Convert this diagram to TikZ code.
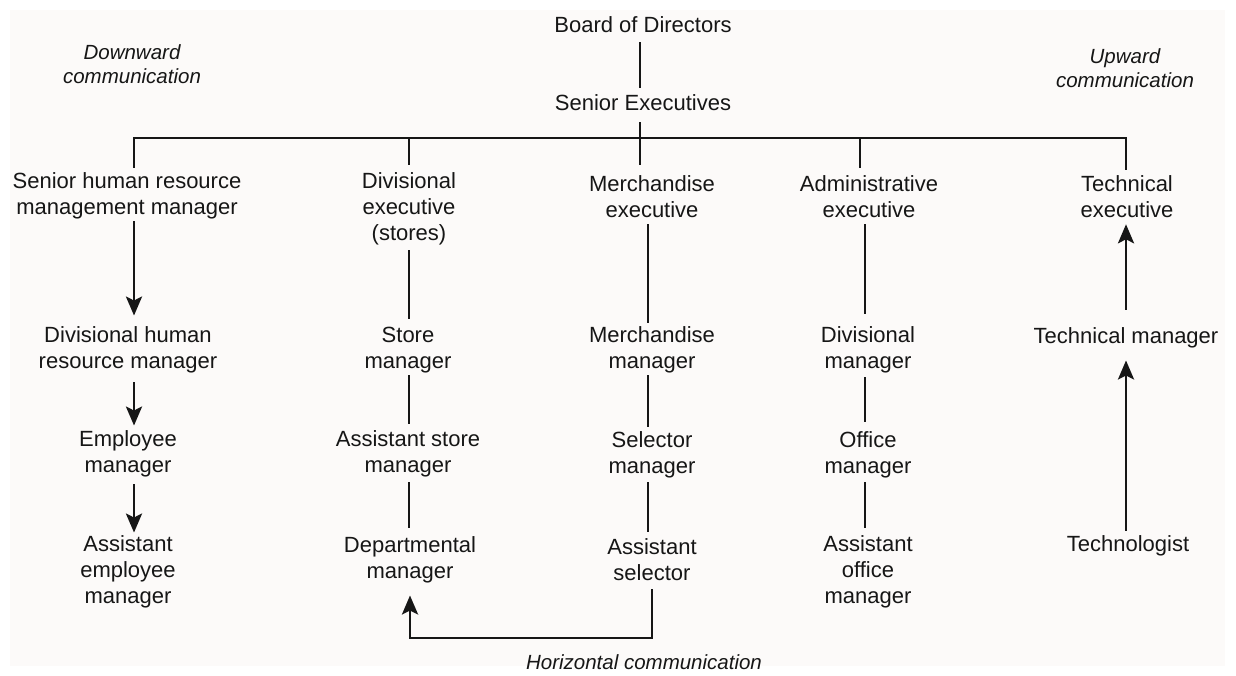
\documentclass[tikz,border=0pt]{standalone}
\usepackage{fontspec}
\setmainfont{Liberation Sans}
\usetikzlibrary{arrows.meta}
\definecolor{ink}{HTML}{161616}
\definecolor{paper}{HTML}{FCFAF9}

\begin{document}
\begin{tikzpicture}[x=1pt,y=-1pt,
  lbl/.style={align=center, inner sep=2pt, font=\fontsize{22}{26}\selectfont, text=ink},
  note/.style={align=center, inner sep=2pt, font=\fontsize{20.5}{24}\selectfont\itshape, text=ink},
  link/.style={draw=ink, line width=2.9pt},
  arr/.style={link, -{Stealth[length=19pt,width=16pt,inset=4pt]}}]
\useasboundingbox (0,0) rectangle (1236,675);
\fill[paper] (10,10) rectangle (1225,666);

% column axes for the connectors
\coordinate (c1) at (134,0);
\coordinate (c2) at (409,0);
\coordinate (c3) at (648,0);
\coordinate (c4top) at (860,0);
\coordinate (c4) at (865,0);
\coordinate (c5) at (1126,0);
\coordinate (trunk) at (640,138);
\coordinate (hr) at (652,638);
\coordinate (hl) at (410,638);

% top of the hierarchy
\node[lbl] (board) at (643,25) {Board of Directors};
\node[lbl] (senior) at (643,103) {Senior Executives};

% executives
\node[lbl] (shrm) at (127,196) {Senior human resource\\management manager};
\node[lbl] (divex) at (409,209) {Divisional\\executive\\(stores)};
\node[lbl] (merex) at (652,197) {Merchandise\\executive};
\node[lbl] (admex) at (869,197) {Administrative\\executive};
\node[lbl] (tecex) at (1127,197) {Technical\\executive};

% managers
\node[lbl] (dhrm) at (128,350) {Divisional human\\resource manager};
\node[lbl] (store) at (408,350) {Store\\manager};
\node[lbl] (merm) at (652,350) {Merchandise\\manager};
\node[lbl] (divm) at (868,350) {Divisional\\manager};
\node[lbl] (tecm) at (1126,338) {Technical manager};

\node[lbl] (empm) at (128,454) {Employee\\manager};
\node[lbl] (asm) at (408,454) {Assistant store\\manager};
\node[lbl] (selm) at (652,455) {Selector\\manager};
\node[lbl] (offm) at (868,455) {Office\\manager};

\node[lbl] (aem) at (128,572) {Assistant\\employee\\manager};
\node[lbl] (depm) at (410,560) {Departmental\\manager};
\node[lbl] (asel) at (652,560) {Assistant\\selector};
\node[lbl] (aom) at (868,572) {Assistant\\office\\manager};
\node[lbl] (techn) at (1128,546) {Technologist};

% communication labels
\node[note] (down) at (132,64) {Downward\\communication};
\node[note] (up) at (1125,68) {Upward\\communication};
\node[note] (horiz) at (644,662) {Horizontal communication};

% trunk and branch bar
\draw[link, shorten <=7pt, shorten >=5pt] (board.south -| trunk) -- (senior.north -| trunk);
\draw[link, shorten <=9pt, shorten >=9pt] (senior.south -| trunk) -- (merex.north -| trunk);
\draw[link, shorten <=3pt, shorten >=4pt] (c1 |- shrm.north) -- (c1 |- trunk) -- (c5 |- trunk) -- (c5 |- tecex.north);
\draw[link, shorten >=6pt] (c2 |- trunk) -- (c2 |- divex.north);
\draw[link, shorten >=6pt] (c4top |- trunk) -- (c4top |- admex.north);

% downward communication
\draw[arr, shorten >=9pt] (shrm.south -| c1) -- (dhrm.north -| c1);
\draw[arr, shorten <=7pt, shorten >=3pt] (dhrm.south -| c1) -- (empm.north -| c1);
\draw[arr, shorten <=5pt, shorten >=1pt] (empm.south -| c1) -- (aem.north -| c1);

% stores line
\draw[link, shorten <=3pt, shorten >=6pt] (divex.south -| c2) -- (store.north -| c2);
\draw[link, shorten >=5pt] (store.south -| c2) -- (asm.north -| c2);
\draw[link, shorten <=3pt, shorten >=7pt] (asm.south -| c2) -- (depm.north -| c2);

% merchandise line
\draw[link, shorten <=4pt, shorten >=2pt] (merex.south -| c3) -- (merm.north -| c3);
\draw[link, shorten >=3pt] (merm.south -| c3) -- (selm.north -| c3);
\draw[link, shorten <=2pt, shorten >=5pt] (selm.south -| c3) -- (asel.north -| c3);

% administrative line
\draw[link, shorten <=4pt, shorten >=11pt] (admex.south -| c4) -- (divm.north -| c4);
\draw[link, shorten <=2pt, shorten >=8pt] (divm.south -| c4) -- (offm.north -| c4);
\draw[link, shorten <=2pt, shorten >=6pt] (offm.south -| c4) -- (aom.north -| c4);

% upward communication
\draw[arr, shorten <=16pt, shorten >=4pt] (tecm.north -| c5) -- (tecex.south -| c5);
\draw[arr, shorten <=3pt, shorten >=10pt] (techn.north -| c5) -- (tecm.south -| c5);

% horizontal communication
\draw[arr, shorten <=6pt, shorten >=10pt] (asel.south -| hr) -- (hr) -- (hl) -- (depm.south -| hl);
\end{tikzpicture}
\end{document}
